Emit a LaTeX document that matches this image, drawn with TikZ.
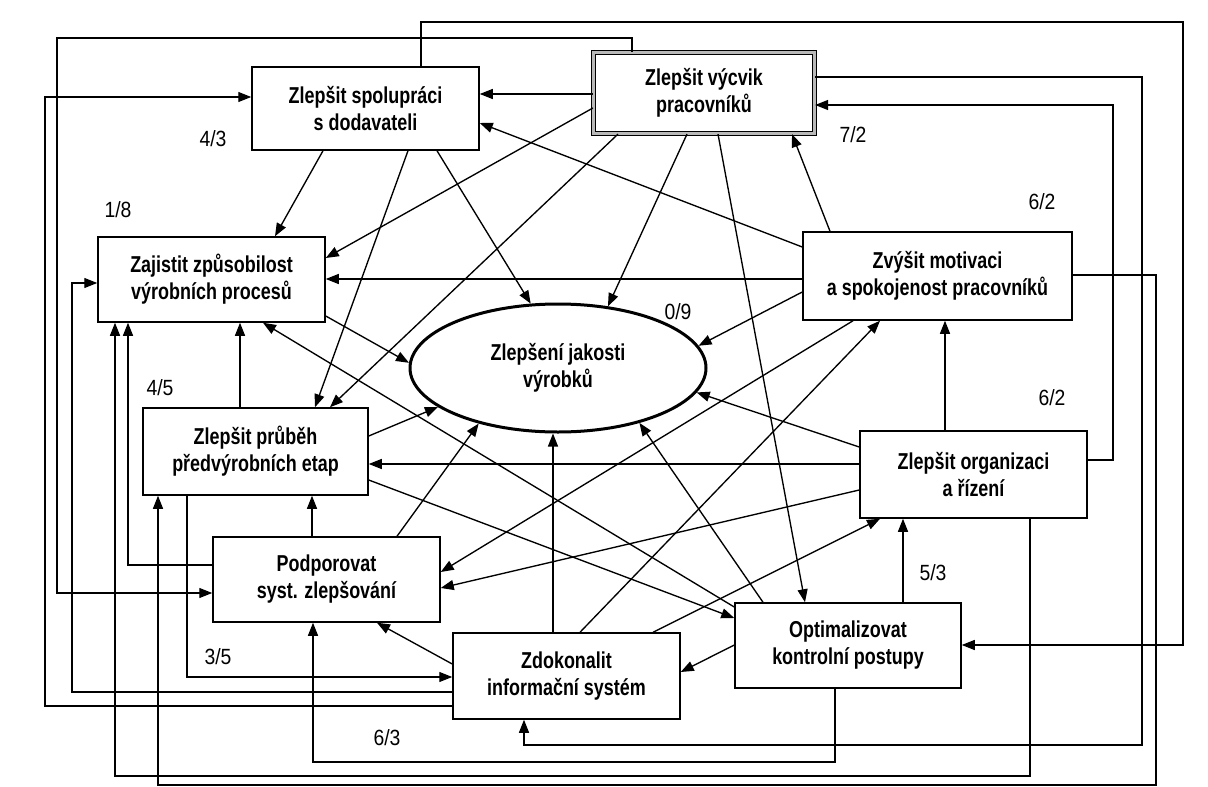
\documentclass[tikz,border=0pt]{standalone}
\usepackage{fontspec}
\usetikzlibrary{arrows.meta,shapes.geometric}
\newfontfamily\boxfont{Liberation Sans}[FakeStretch=0.78]
\newfontfamily\numfont{Liberation Sans}[FakeStretch=0.88]
\begin{document}
\begin{tikzpicture}[x=1pt,y=-1pt,
  box/.style={draw, line width=1.5pt, rectangle, fill=white, inner sep=0pt, align=center,
    font=\boxfont\bfseries\fontsize{23}{27}\selectfont},
  dbox/.style={box, line width=1.2pt, double=gray!55, double distance=2.6pt},
  oval/.style={draw, ellipse, line width=3pt, fill=white, inner sep=0pt, align=center,
    font=\boxfont\bfseries\fontsize{23}{27}\selectfont},
  con/.style={line width=1.35pt, -{Triangle[length=13pt,width=10pt]}},
  lbl/.style={font=\numfont\fontsize{22}{24}\selectfont, inner sep=0pt}
]
\useasboundingbox (0,0) rectangle (1208,787);
\fill[white] (0,0) rectangle (1208,787);

% nodes
\node[box, minimum width=227pt, minimum height=83pt] (S) at (365.5,108.5) {Zlepšit spolupráci\\s dodavateli};
\node[dbox, minimum width=221pt, minimum height=81pt] (V) at (704,93) {Zlepšit výcvik\\pracovníků};
\node[box, minimum width=227pt, minimum height=85pt] (Z) at (211.5,279.5) {Zajistit způsobilost\\výrobních procesů};
\node[box, minimum width=269pt, minimum height=88pt] (M) at (937.5,276) {Zvýšit motivaci\\a spokojenost pracovníků};
\node[oval, minimum width=296pt, minimum height=128pt] (E) at (558,368) {Zlepšení jakosti\\výrobků};
\node[box, minimum width=225pt, minimum height=87pt] (P) at (255.5,451.5) {Zlepšit průběh\\předvýrobních etap};
\node[box, minimum width=227pt, minimum height=87pt] (O) at (973.5,474.5) {Zlepšit organizaci\\a řízení};
\node[box, minimum width=227pt, minimum height=85pt] (D) at (326.5,579.5) {Podporovat\\syst. zlepšování};
\node[box, minimum width=227pt, minimum height=86pt] (I) at (566.5,676) {Zdokonalit\\informační systém};
\node[box, minimum width=226pt, minimum height=85pt] (K) at (848,645.5) {Optimalizovat\\kontrolní postupy};

% labels
\node[lbl] (l1) at (213,139) {4/3};
\node[lbl] (l2) at (118,210) {1/8};
\node[lbl] (l3) at (678,312) {0/9};
\node[lbl] (l4) at (853,135) {7/2};
\node[lbl] (l5) at (1042,202) {6/2};
\node[lbl] (l6) at (160,388) {4/5};
\node[lbl] (l7) at (1052,398) {6/2};
\node[lbl] (l8) at (218,657) {3/5};
\node[lbl] (l9) at (387,738) {6/3};
\node[lbl] (l10) at (933,573) {5/3};

% V (out 7)
\draw[con] (V.west |- 0,94) -- (S.east |- 0,94);
\draw[con] (V.west |- 0,108) -- (Z.east |- 0,258);
\draw[con] (V.south -| 618,0) -- (P.north -| 330,0);
\draw[con] (V.south -| 687,0) -- (E.51);
\draw[con] (V.south -| 718,0) -- (K.north -| 805,0);
\draw[con] (V.north -| 632,0) |- (57,38) |- (D.west |- 0,593);
\draw[con] (V.east |- 0,77) -| (1142,745) -| (I.south -| 524,0);
% S (out 4)
\draw[con] (S.north -| 421,0) |- (1183,22) |- (K.east |- 0,645);
\draw[con] (S.south -| 323,0) -- (Z.north -| 275,0);
\draw[con] (S.south -| 408,0) -- (P.north -| 315,0);
\draw[con] (S.south -| 437,0) -- (E.113);
% I (out 6)
\draw[con] (I.west |- 0,706) -| (45,97) -- (S.west |- 0,97);
\draw[con] (I.west |- 0,692) -| (72,283) -- (Z.west |- 0,283);
\draw[con] (I.north -| 553,0) -- (E.south -| 553,0);
\draw[con] (I.west |- 0,664) -- (D.south -| 377,0);
\draw[con] (I.north -| 580,0) -- (M.south -| 880,0);
\draw[con] (I.north -| 653,0) -- (O.south -| 880,0);
% P (out 4)
\draw[con] (P.south -| 187,0) |- (I.west |- 0,677);
\draw[con] (P.north -| 240,0) -- (Z.south -| 240,0);
\draw[con] (P.east |- 0,436) -- (E.198);
\draw[con] (P.east |- 0,480) -- (K.west |- 0,618);
% D (out 3)
\draw[con] (D.west |- 0,565) -| (Z.south -| 128,0);
\draw[con] (D.north -| 312,0) -- (P.south -| 312,0);
\draw[con] (D.north -| 397,0) -- (E.215);
% K (out 5)
\draw[con] (K.south -| 835,0) |- (313,762) -- (D.south -| 313,0);
\draw[con] (K.west |- 0,607) -- (Z.south -| 263,0);
\draw[con] (K.west |- 0,645) -- (I.east |- 0,672);
\draw[con] (K.north -| 763,0) -- (E.326);
\draw[con] (K.north -| 903,0) -- (O.south -| 903,0);
% O (out 6)
\draw[con] (O.south -| 1030,0) |- (115,776) -- (Z.south -| 115,0);
\draw[con] (O.east |- 0,460) -| (1113,105) -- (V.east |- 0,105);
\draw[con] (O.west |- 0,464) -- (P.east |- 0,464);
\draw[con] (O.west |- 0,447) -- (E.350);
\draw[con] (O.west |- 0,490) -- (D.east |- 0,588);
\draw[con] (O.north -| 945,0) -- (M.south -| 945,0);
% M (out 6)
\draw[con] (M.east |- 0,275) -| (1156,785) -| (P.south -| 158,0);
\draw[con] (M.west |- 0,247) -- (S.east |- 0,123);
\draw[con] (M.west |- 0,279) -- (Z.east |- 0,279);
\draw[con] (M.west |- 0,292) -- (E.9);
\draw[con] (M.north -| 830,0) -- (V.south -| 792,0);
\draw[con] (M.south -| 853,0) -- (D.east |- 0,572);
% Z (out 1)
\draw[con] (Z.east |- 0,316) -- (E.178);
\end{tikzpicture}
\end{document}
